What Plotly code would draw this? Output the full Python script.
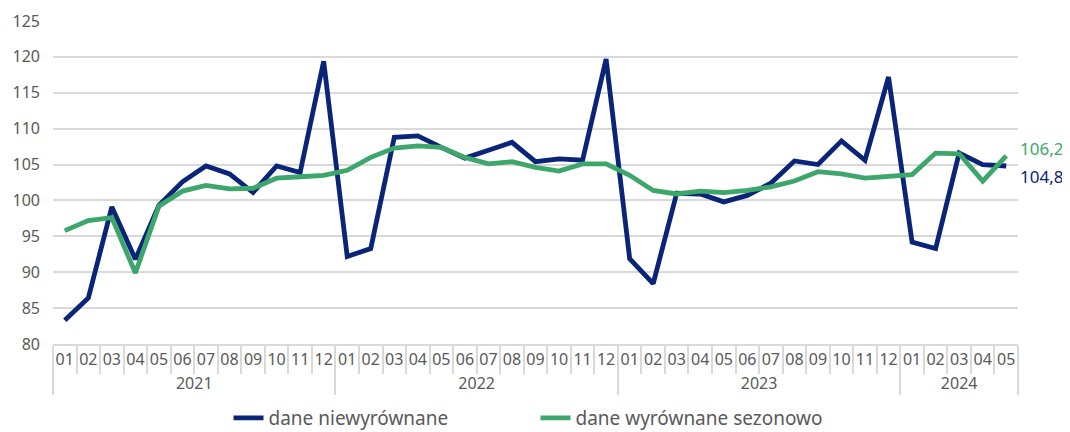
import plotly.graph_objects as go

years = ["2021"] * 12 + ["2022"] * 12 + ["2023"] * 12 + ["2024"] * 5
months = ["01", "02", "03", "04", "05", "06", "07", "08", "09", "10", "11", "12"] * 3 + ["01", "02", "03", "04", "05"]

niewyrownane = [
    83.3, 86.4, 99.1, 91.8, 99.3, 102.6, 104.8, 103.7, 101.1, 104.8, 103.9, 119.4,
    92.2, 93.3, 108.8, 109.0, 107.4, 105.9, 107.0, 108.1, 105.4, 105.8, 105.6, 119.7,
    91.9, 88.4, 101.0, 100.9, 99.8, 100.7, 102.4, 105.5, 105.0, 108.3, 105.6, 117.2,
    94.2, 93.3, 106.6, 105.0, 104.8,
]
wyrownane = [
    95.8, 97.2, 97.6, 89.9, 99.2, 101.3, 102.1, 101.6, 101.7, 103.1, 103.3, 103.5,
    104.2, 106.0, 107.3, 107.6, 107.4, 106.0, 105.1, 105.4, 104.6, 104.1, 105.1, 105.1,
    103.5, 101.4, 100.9, 101.3, 101.1, 101.4, 101.9, 102.7, 104.0, 103.7, 103.1, 103.3,
    103.6, 106.6, 106.5, 102.7, 106.2,
]

navy = "#0A2478"
green = "#3CA66B"
gray_txt = "#595959"
grid = "#D9D9D9"

fig = go.Figure()
fig.add_trace(go.Scatter(x=[years, months], y=niewyrownane, mode="lines",
                         name="dane niewyrównane", line=dict(color=navy, width=4.8)))
fig.add_trace(go.Scatter(x=[years, months], y=wyrownane, mode="lines",
                         name="dane wyrównane sezonowo", line=dict(color=green, width=4.8)))

fig.add_annotation(x=[years[-1], months[-1]], y=wyrownane[-1], text="106,2",
                   showarrow=False, xanchor="left", xshift=12, yshift=7,
                   font=dict(color=green, size=17, family="Noto Sans"))
fig.add_annotation(x=[years[-1], months[-1]], y=niewyrownane[-1], text="104,8",
                   showarrow=False, xanchor="left", xshift=12, yshift=-11,
                   font=dict(color=navy, size=17, family="Noto Sans"))

fig.update_layout(
    width=1070, height=432,
    margin=dict(l=45, r=60, t=13, b=96, autoexpand=False),
    plot_bgcolor="white", paper_bgcolor="white",
    font=dict(family="Noto Sans", color=gray_txt, size=16),
    showlegend=True,
    legend=dict(orientation="h", x=0.5, xanchor="center", xref="paper",
                y=22 / 432, yanchor="middle", yref="container",
                font=dict(size=19, color=gray_txt), entrywidth=262, entrywidthmode="pixels"),
)
fig.update_yaxes(range=[80, 125], dtick=5, showgrid=True, gridcolor=grid, gridwidth=1.5,
                 zeroline=False, showline=False, ticks="", automargin=False,
                 ticklabelstandoff=12, tickfont=dict(size=16, color=gray_txt))
fig.update_xaxes(type="multicategory", range=[-0.5, 40.5], autorange=False, automargin=False,
                 showgrid=False, showline=True, linecolor=grid, linewidth=1.5,
                 ticks="outside", tickson="boundaries", ticklen=28, tickcolor=grid, tickwidth=1.5,
                 tickangle=0, showdividers=True, dividercolor=grid, dividerwidth=1.5,
                 tickfont=dict(size=16, color=gray_txt))

fig.write_html("out.html")
